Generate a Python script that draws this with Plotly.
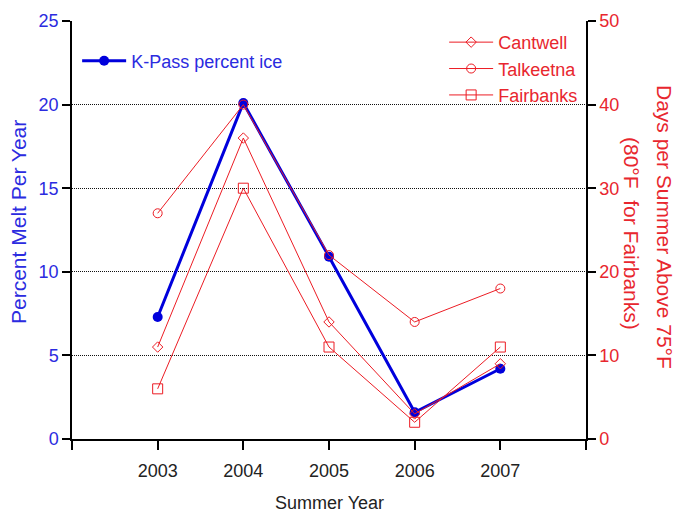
import plotly.graph_objects as go

# Summer seasons
years = [2003, 2004, 2005, 2006, 2007]

# Percent of K-Pass ice melted each summer (left axis)
kpass_melt = [7.3, 20.1, 10.9, 1.6, 4.2]

# Days per summer above 75°F (80°F for Fairbanks) (right axis)
cantwell_days = [11, 36, 14, 3, 9]
talkeetna_days = [27, 40, 22, 14, 18]
fairbanks_days = [6, 30, 11, 2, 11]

x_tickvals = [2002, 2003, 2004, 2005, 2006, 2007, 2008]
x_ticktext = ["", "2003", "2004", "2005", "2006", "2007", ""]
left_ticks = [0, 5, 10, 15, 20, 25]
right_ticks = [0, 10, 20, 30, 40, 50]

BLUE = "#0000dc"
BLUE_TXT = "#2b2be0"
RED = "#ec1c24"
RED_TXT = "#e8262e"
FONT = "Liberation Sans, Arial, Helvetica, sans-serif"

fig = go.Figure()

red_series = [
    ("Cantwell", cantwell_days, "diamond-open", 8),
    ("Talkeetna", talkeetna_days, "circle-open", 9),
    ("Fairbanks", fairbanks_days, "square-open", 10),
]
for name, vals, sym, sz in red_series:
    fig.add_trace(go.Scatter(
        x=years, y=vals, name=name, yaxis="y2", legend="legend2",
        mode="lines+markers",
        line=dict(color=RED, width=1),
        marker=dict(symbol=sym, size=sz, color=RED, line=dict(color=RED, width=1)),
    ))

fig.add_trace(go.Scatter(
    x=years, y=kpass_melt, name="K-Pass percent ice", legend="legend",
    mode="lines+markers",
    line=dict(color=BLUE, width=3),
    marker=dict(symbol="circle", size=10, color=BLUE),
))

fig.update_layout(
    width=678, height=514,
    margin=dict(l=72, r=92, t=21, b=75),
    paper_bgcolor="white", plot_bgcolor="white",
    font=dict(family=FONT, size=17, color="#222222"),
    showlegend=True,
    xaxis=dict(
        range=[2002, 2008], automargin=False,
        tickvals=x_tickvals, ticktext=x_ticktext,
        showgrid=False, zeroline=False,
        showline=True, linecolor="black", linewidth=1.5,
        ticks="outside", ticklen=9, tickwidth=1.5, tickcolor="black",
        ticklabelstandoff=6,
        tickfont=dict(size=18, color="#222222"),
    ),
    yaxis=dict(
        range=[0, 25], tickvals=left_ticks, automargin=False,
        showgrid=True, gridcolor="#111111", gridwidth=1, griddash="1px,1px",
        zeroline=False,
        showline=True, linecolor="black", linewidth=1.5,
        ticks="outside", ticklen=8, tickwidth=1.5, tickcolor="black",
        tickfont=dict(size=18, color=BLUE_TXT),
    ),
    yaxis2=dict(
        range=[0, 50], tickvals=right_ticks, automargin=False,
        overlaying="y", side="right", anchor="x",
        showgrid=False, zeroline=False,
        showline=True, linecolor="black", linewidth=1.5,
        ticks="outside", ticklen=8, tickwidth=1.5, tickcolor="black",
        tickfont=dict(size=18, color=RED_TXT),
    ),
    legend=dict(
        x=0.01, y=0.904, xanchor="left", yanchor="middle",
        bgcolor="rgba(0,0,0,0)", borderwidth=0,
        font=dict(size=18, color=BLUE_TXT), itemwidth=44,
    ),
    legend2=dict(
        x=0.724, y=0.993, xanchor="left", yanchor="top",
        bgcolor="rgba(0,0,0,0)", borderwidth=0,
        font=dict(size=18, color=RED_TXT), itemwidth=44,
        tracegroupgap=0,
    ),
)

# Axis titles drawn as text annotations
fig.add_annotation(
    text="Summer Year", xref="paper", yref="paper",
    x=0.5, y=-(503 - 439) / 418, xanchor="center", yanchor="middle",
    showarrow=False, font=dict(size=18, color="#222222"),
)
fig.add_annotation(
    text="Percent Melt Per Year", xref="paper", yref="paper",
    x=-54 / 514, y=(439 - 222) / 418, xanchor="center", yanchor="middle",
    textangle=-90, showarrow=False, font=dict(size=21, color=BLUE_TXT),
)
fig.add_annotation(
    text="Days per Summer Above 75°F", xref="paper", yref="paper",
    x=(665 - 72) / 514, y=(439 - 227) / 418, xanchor="center", yanchor="middle",
    textangle=90, showarrow=False, font=dict(size=21, color=RED_TXT),
)
fig.add_annotation(
    text="(80°F  for Fairbanks)", xref="paper", yref="paper",
    x=(632 - 72) / 514, y=(439 - 233) / 418, xanchor="center", yanchor="middle",
    textangle=90, showarrow=False, font=dict(size=21, color=RED_TXT),
)

fig.write_html("out.html")
